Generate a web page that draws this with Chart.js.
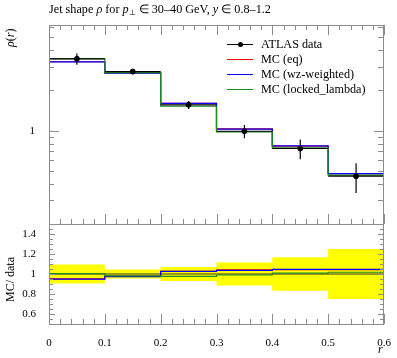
<!DOCTYPE html>
<html><head><meta charset="utf-8">
<script src="https://cdn.jsdelivr.net/npm/chart.js@4.4.1/dist/chart.umd.min.js"></script>
<style>
html,body{margin:0;padding:0;background:#fff;}
#wrap{position:relative;width:397px;height:358px;overflow:hidden;font-family:'Liberation Serif','Times New Roman',serif;color:#000;}
canvas{position:absolute;left:0;top:0;}
.t{position:absolute;white-space:nowrap;line-height:1;}
.rot{transform-origin:0 0;transform:rotate(-90deg);}
.ln{position:absolute;height:1.3px;width:26px;left:227px;}
</style></head><body>
<div id="wrap">
<canvas id="main" width="397" height="358"></canvas>
<canvas id="ratio" width="397" height="358"></canvas>
<div class="t" style="left:49px;top:3px;font-size:12.2px;">Jet shape <i>ρ</i> for <i>p</i><span style="font-size:8px;position:relative;top:2px;">⊥</span> ∈ 30–40 GeV, <i>y</i> ∈ 0.8–1.2</div>
<div class="t rot" style="left:4px;top:47px;font-size:12px;"><i>ρ</i>(<i>r</i>)</div>
<div class="t rot" style="left:4px;top:302px;font-size:12px;">MC/ data</div>
<div class="t" style="left:378px;top:343px;font-size:12px;"><i>r</i></div>
<div class="ln" style="top:43.5px;background:#000;"></div>
<div style="position:absolute;left:237.5px;top:41.5px;width:5px;height:5px;border-radius:50%;background:#000;"></div>
<div class="ln" style="top:58.5px;background:#ff0000;"></div>
<div class="ln" style="top:73.5px;background:#0000ff;"></div>
<div class="ln" style="top:88.5px;background:#1e8c1e;"></div>
<div class="t" style="left:261px;top:38px;font-size:12.2px;">ATLAS data</div>
<div class="t" style="left:261px;top:53px;font-size:12.2px;">MC (eq)</div>
<div class="t" style="left:261px;top:68px;font-size:12.2px;">MC (wz-weighted)</div>
<div class="t" style="left:261px;top:83px;font-size:12.2px;">MC (locked_lambda)</div>
</div>
<script>
// ---- data ----
const binEdges = [0, 0.1, 0.2, 0.3, 0.4, 0.5, 0.6];
const dataVals = [3.45, 2.77, 1.56, 0.99, 0.735, 0.456];
const dataErr  = [0.33, 0.125, 0.109, 0.114, 0.123, 0.114];
const mcEq     = [3.28, 2.71, 1.60, 1.03, 0.767, 0.476];
const mcWz     = [3.27, 2.70, 1.60, 1.025, 0.769, 0.477];
const mcLocked = [3.46, 2.72, 1.523, 0.98, 0.742, 0.464];
// ---- ticks ----
const mainYTickValues = [0.2,0.3,0.4,0.5,0.6,0.7,0.8,0.9,1,2,3,4,5,6];
const mainYTickLabels = {"1":"1"};
const xTickLabelValues = [0, 0.1, 0.2, 0.3, 0.4, 0.5, 0.6];
const xTickLabels = ['0','0.1','0.2','0.3','0.4','0.5','0.6'];
const ratioYTickLabelValues = [0.6, 0.8, 1, 1.2, 1.4];
const ratioYTickLabels = ['0.6','0.8','1','1.2','1.4'];

const COL = {eq:'#ff0000', wz:'#0000ff', locked:'#1e8c1e', data:'#000000', band:'#ffff00', frame:'#8c8c8c'};
const FONT = {family:"'Liberation Serif', serif", size:11};

const binCenters = binEdges.slice(0,-1).map((e,i)=>(e+binEdges[i+1])/2);
// point at each bin's lower edge carries the bin value; last edge repeats the last bin
const stepPts = vals => binEdges.map((x,i)=>({x, y: vals[Math.min(i, vals.length-1)]}));
const near = (a,b)=>Math.abs(a-b)<1e-6;
const range = (a,b,s)=>{const r=[];for(let k=0;a+k*s<=b+1e-9;k++) r.push(+(a+k*s).toFixed(4));return r;};
const xTicks = range(0,0.6,0.02);
const ratioYTicks = range(0.5,1.5,0.05);
const isXMajor = v => xTickLabelValues.some(t=>near(t,v));
const lbl = (vals, labels, v) => { const i = vals.findIndex(t=>near(t,v)); return i>=0 ? labels[i] : ''; };

const frameTicks = {
  id:'frameTicks',
  afterDraw(chart, args, o){
    const {ctx, chartArea:a} = chart;
    const xs = chart.scales.x, ys = chart.scales.y;
    ctx.save();
    ctx.strokeStyle = COL.frame; ctx.lineWidth = 1;
    ctx.strokeRect(a.left+0.5, a.top+0.5, a.right-a.left-1, a.bottom-a.top);
    ctx.beginPath();
    xs.ticks.forEach(t=>{
      const px = Math.round(xs.getPixelForValue(t.value))+0.5;
      const maj = isXMajor(t.value);
      const L = maj ? o.xMaj : o.xMin;
      ctx.moveTo(px, a.bottom); ctx.lineTo(px, a.bottom-L);
      if (o.topTicks){ ctx.moveTo(px, a.top); ctx.lineTo(px, a.top+L); }
    });
    ys.ticks.forEach(t=>{
      const py = Math.round(ys.getPixelForValue(t.value))+0.5;
      const maj = o.yMajor(t.value);
      const L = maj ? o.yMaj : o.yMin;
      ctx.moveTo(a.left, py); ctx.lineTo(a.left+L, py);
      const R = maj ? o.yMajR : o.yMinR;
      ctx.moveTo(a.right, py); ctx.lineTo(a.right-R, py);
    });
    ctx.stroke();
    ctx.restore();
  }
};

const errBars = {
  id:'errBars',
  afterDatasetsDraw(chart){
    const {ctx} = chart; const xs = chart.scales.x, ys = chart.scales.y;
    ctx.save();
    ctx.strokeStyle = COL.data; ctx.lineWidth = 1.2;
    ctx.beginPath();
    dataVals.forEach((v,i)=>{
      const y = ys.getPixelForValue(v);
      ctx.moveTo(xs.getPixelForValue(binEdges[i]), y);
      ctx.lineTo(xs.getPixelForValue(binEdges[i+1]), y);
      const xc = xs.getPixelForValue(binCenters[i]);
      ctx.moveTo(xc, ys.getPixelForValue(v-dataErr[i]));
      ctx.lineTo(xc, ys.getPixelForValue(v+dataErr[i]));
    });
    ctx.stroke();
    ctx.restore();
  }
};

const stepDs = (label, vals, color, w) => ({label, data: stepPts(vals), borderColor: color, borderWidth: w, stepped:'before', pointRadius:0, fill:false, tension:0});

new Chart(document.getElementById('main'), {
  type:'line',
  data:{datasets:[
    {label:'ATLAS data', data: binCenters.map((x,i)=>({x, y:dataVals[i]})), showLine:false, pointRadius:2.5, pointBackgroundColor:COL.data, pointBorderColor:COL.data, borderColor:COL.data},
    stepDs('MC (locked_lambda)', mcLocked, COL.locked, 1.2),
    stepDs('MC (wz-weighted)', mcWz, COL.wz, 1.2),
    stepDs('MC (eq)', mcEq, COL.eq, 1.2),
  ]},
  options:{
    responsive:false, animation:false, devicePixelRatio:1,
    layout:{padding:{left:0, right:13, top:25, bottom:134}},
    plugins:{legend:{display:false}, tooltip:{enabled:false}, frameTicks:{xMaj:10, xMin:5, topTicks:true, yMaj:10, yMin:5, yMajR:10, yMinR:6, yMajor:v=>near(v,1)}},
    scales:{
      x:{type:'linear', min:0, max:0.6, grid:{display:false}, border:{display:false}, ticks:{display:false},
         afterBuildTicks:s=>{s.ticks = xTicks.map(v=>({value:v}));}, afterFit:s=>{s.height=0;}},
      y:{type:'logarithmic', min:0.2, max:6.18, grid:{display:false}, border:{display:false},
         ticks:{autoSkip:false, padding:6, color:'#000', font:FONT, callback:v=>mainYTickLabels[String(v)]||''},
         afterBuildTicks:s=>{s.ticks = mainYTickValues.map(v=>({value:v}));}, afterFit:s=>{s.width=49;}}
    }
  },
  plugins:[frameTicks, errBars]
});

const ratio = (mc) => mc.map((v,i)=>v/dataVals[i]);
new Chart(document.getElementById('ratio'), {
  type:'line',
  data:{datasets:[
    stepDs('MC (locked_lambda)', ratio(mcLocked), COL.locked, 1.2),
    stepDs('MC (wz-weighted)', ratio(mcWz), COL.wz, 1.2),
    stepDs('MC (eq)', ratio(mcEq), COL.eq, 1.2),
    stepDs('data', dataVals.map(v=>v/v), '#333333', 1),
    {label:'band up', data: stepPts(dataVals.map((v,i)=>1+dataErr[i]/v)), borderWidth:0, borderColor:'rgba(0,0,0,0)', backgroundColor:COL.band, stepped:'before', pointRadius:0, fill:'+1'},
    {label:'band dn', data: stepPts(dataVals.map((v,i)=>1-dataErr[i]/v)), borderWidth:0, borderColor:'rgba(0,0,0,0)', stepped:'before', pointRadius:0, fill:false},
  ]},
  options:{
    responsive:false, animation:false, devicePixelRatio:1,
    layout:{padding:{left:0, right:13, top:224, bottom:0}},
    plugins:{legend:{display:false}, tooltip:{enabled:false}, filler:{propagate:false}, frameTicks:{xMaj:10, xMin:5, topTicks:false, yMaj:6, yMin:4, yMajR:6, yMinR:4, yMajor:v=>ratioYTickLabelValues.some(t=>near(t,v))}},
    scales:{
      x:{type:'linear', min:0, max:0.6, grid:{display:false}, border:{display:false},
         ticks:{autoSkip:false, maxRotation:0, padding:5, color:'#000', font:FONT, callback:v=>lbl(xTickLabelValues, xTickLabels, v)},
         afterBuildTicks:s=>{s.ticks = xTicks.map(v=>({value:v}));}, afterFit:s=>{s.height=34;}},
      y:{type:'linear', min:0.5, max:1.5, grid:{display:false}, border:{display:false},
         ticks:{autoSkip:false, padding:5, color:'#000', font:FONT, callback:v=>lbl(ratioYTickLabelValues, ratioYTickLabels, v)},
         afterBuildTicks:s=>{s.ticks = ratioYTicks.map(v=>({value:v}));}, afterFit:s=>{s.width=49;}}
    }
  },
  plugins:[frameTicks]
});
</script>
</body></html>
